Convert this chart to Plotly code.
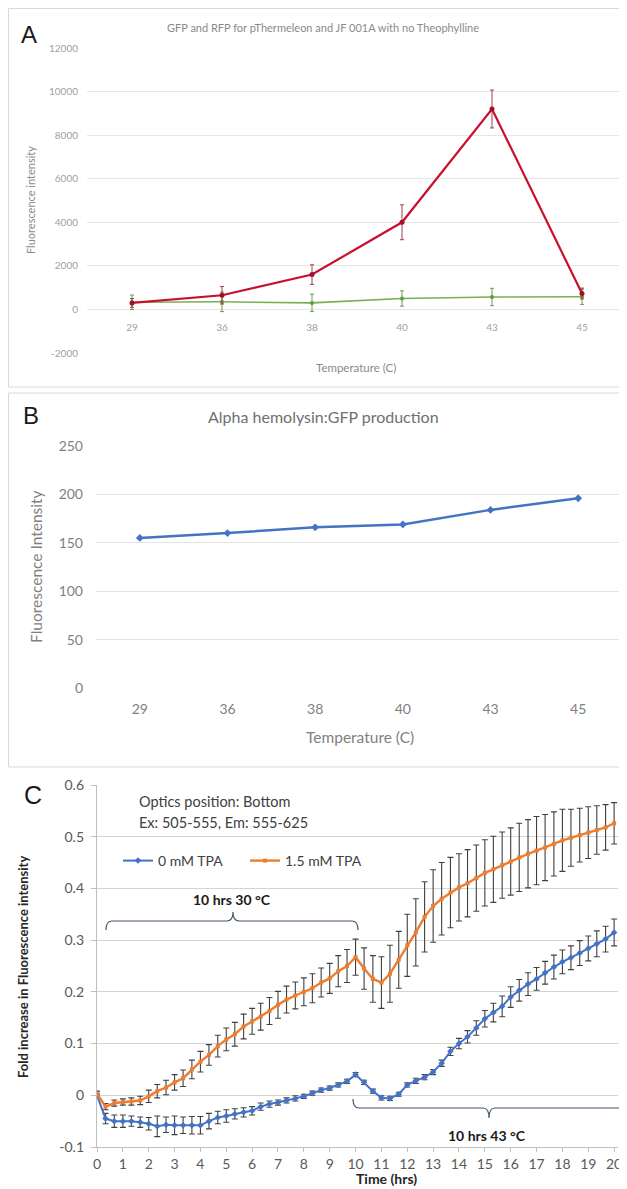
import plotly.graph_objects as go

# The page body keeps its default 8px margin, so the figure is drawn at (8, 8)
OFF = 8
PAGE_W, PAGE_H = 627, 1189
W, H = PAGE_W - OFF, PAGE_H - OFF

# ---------------- Panel A data ----------------
temps_a = ["29", "36", "38", "40", "43", "45"]
rfp_vals = [300, 650, 1600, 4000, 9200, 730]
rfp_err = [200, 400, 450, 800, 870, 250]
gfp_vals = [330, 350, 300, 500, 570, 580]
gfp_err = [330, 450, 400, 350, 400, 350]
a_ytick_vals = [-2000, 0, 2000, 4000, 6000, 8000, 10000, 12000]
a_ytick_text = ["-2000", "0", "2000", "4000", "6000", "8000", "10000", "12000"]

# ---------------- Panel B data ----------------
temps_b = ["29", "36", "38", "40", "43", "45"]
hly_vals = [155, 160, 166, 169, 184, 196]

# ---------------- Panel C data ----------------
time_h = [0, 0.33, 0.67, 1, 1.33, 1.67, 2, 2.33, 2.67, 3, 3.33, 3.67, 4, 4.33, 4.67,
          5, 5.33, 5.67, 6, 6.33, 6.67, 7, 7.33, 7.67, 8, 8.33, 8.67, 9, 9.33, 9.67,
          10, 10.33, 10.67, 11, 11.33, 11.67, 12, 12.33, 12.67, 13, 13.33, 13.67, 14,
          14.33, 14.67, 15, 15.33, 15.67, 16, 16.33, 16.67, 17, 17.33, 17.67, 18, 18.33,
          18.67, 19, 19.33, 19.67, 20]
tpa0_vals = [0.0, -0.045, -0.05, -0.05, -0.05, -0.052, -0.055, -0.06, -0.057, -0.058,
             -0.058, -0.058, -0.058, -0.05, -0.043, -0.04, -0.036, -0.033, -0.03, -0.022,
             -0.017, -0.014, -0.01, -0.006, -0.002, 0.004, 0.01, 0.014, 0.02, 0.027,
             0.04, 0.025, 0.008, -0.005, -0.006, 0.002, 0.02, 0.028, 0.035, 0.045,
             0.062, 0.085, 0.1, 0.113, 0.13, 0.148, 0.16, 0.172, 0.19, 0.203,
             0.215, 0.225, 0.237, 0.248, 0.258, 0.266, 0.275, 0.284, 0.293, 0.302, 0.315]
tpa0_err = [0.003, 0.01, 0.012, 0.012, 0.01, 0.01, 0.012, 0.02, 0.015, 0.018,
            0.016, 0.017, 0.017, 0.015, 0.012, 0.012, 0.01, 0.009, 0.008, 0.007,
            0.006, 0.005, 0.005, 0.005, 0.004, 0.004, 0.004, 0.004, 0.004, 0.004,
            0.004, 0.004, 0.004, 0.004, 0.004, 0.004, 0.004, 0.005, 0.005, 0.005,
            0.006, 0.008, 0.01, 0.012, 0.014, 0.016, 0.018, 0.02, 0.02, 0.021,
            0.022, 0.022, 0.022, 0.023, 0.023, 0.023, 0.024, 0.024, 0.025, 0.025, 0.026]
tpa15_vals = [0.003, -0.022, -0.015, -0.013, -0.012, -0.01, -0.002, 0.008, 0.015, 0.025,
              0.033, 0.05, 0.065, 0.078, 0.095, 0.108, 0.118, 0.133, 0.143, 0.152,
              0.163, 0.175, 0.185, 0.193, 0.2, 0.207, 0.218, 0.226, 0.24, 0.25,
              0.267, 0.245, 0.225, 0.218, 0.235, 0.262, 0.29, 0.315, 0.345, 0.366,
              0.38, 0.392, 0.402, 0.41, 0.42, 0.43, 0.437, 0.445, 0.452, 0.46,
              0.467, 0.473, 0.479, 0.486, 0.493, 0.498, 0.503, 0.508, 0.513, 0.518, 0.526]
tpa15_err = [0.005, 0.006, 0.006, 0.006, 0.007, 0.008, 0.012, 0.013, 0.014, 0.015,
             0.016, 0.018, 0.02, 0.02, 0.021, 0.022, 0.023, 0.024, 0.025, 0.026,
             0.026, 0.026, 0.026, 0.026, 0.027, 0.028, 0.028, 0.029, 0.03, 0.032,
             0.035, 0.04, 0.045, 0.05, 0.055, 0.055, 0.06, 0.065, 0.068, 0.07,
             0.07, 0.068, 0.065, 0.065, 0.064, 0.064, 0.064, 0.064, 0.065, 0.066,
             0.066, 0.066, 0.064, 0.062, 0.06, 0.055, 0.052, 0.05, 0.047, 0.044, 0.04]
time_ticks = list(range(0, 21))
c_ytick_vals = [-0.1, 0, 0.1, 0.2, 0.3, 0.4, 0.5, 0.6]
c_ytick_text = ["-0.1", "0", "0.1", "0.2", "0.3", "0.4", "0.5", "0.6"]


def X(px):
    """page pixel -> paper fraction"""
    return (px - OFF) / W


def Y(py):
    return 1 - (py - OFF) / H


FONT = "Lato, 'Open Sans', sans-serif"

fig = go.Figure()

# Panel A traces
fig.add_trace(go.Scatter(
    x=temps_a, y=gfp_vals, mode="lines+markers", xaxis="x", yaxis="y",
    line=dict(color="#78b050", width=1.6), marker=dict(size=4, color="#5f9a3c"),
    error_y=dict(type="data", array=gfp_err, color="#6c9a50", thickness=1, width=2),
    showlegend=False))
fig.add_trace(go.Scatter(
    x=temps_a, y=rfp_vals, mode="lines+markers", xaxis="x", yaxis="y",
    line=dict(color="#c8102e", width=2.2), marker=dict(size=5, color="#a0102a"),
    error_y=dict(type="data", array=rfp_err, color="#a04050", thickness=1, width=2),
    showlegend=False))

# Panel B trace
fig.add_trace(go.Scatter(
    x=temps_b, y=hly_vals, mode="lines+markers", xaxis="x2", yaxis="y2",
    line=dict(color="#4472c4", width=2.5),
    marker=dict(size=6, color="#4472c4", symbol="diamond"),
    showlegend=False))

# Panel C traces
fig.add_trace(go.Scatter(
    x=time_h, y=tpa0_vals, mode="lines+markers", xaxis="x3", yaxis="y3",
    name="0 mM TPA",
    line=dict(color="#4472c4", width=2),
    marker=dict(size=5, color="#4472c4", symbol="diamond"),
    error_y=dict(type="data", array=tpa0_err, color="#404040", thickness=1.1, width=3)))
fig.add_trace(go.Scatter(
    x=time_h, y=tpa15_vals, mode="lines+markers", xaxis="x3", yaxis="y3",
    name="1.5 mM TPA",
    line=dict(color="#ed7d31", width=2.4),
    marker=dict(size=4, color="#ed7d31", symbol="square"),
    error_y=dict(type="data", array=tpa15_err, color="#404040", thickness=1.1, width=3)))

grid_a = "#e6e6e6"
fig.update_layout(
    width=W, height=H, margin=dict(l=0, r=0, t=0, b=0),
    paper_bgcolor="white", plot_bgcolor="white",
    font=dict(family=FONT, color="#595959"),
    # Panel A axes
    xaxis=dict(domain=[X(87), 1.0], type="category", anchor="free", position=Y(320),
               automargin=False,
               showgrid=False, showline=False, zeroline=False, ticks="",
               tickfont=dict(size=10, color="#a0a0a0"), range=[-0.5, 5.5]),
    yaxis=dict(domain=[Y(353), Y(48)], anchor="x", range=[-2000, 12000],
               tickvals=a_ytick_vals, ticktext=a_ytick_text, automargin=False,
               showgrid=True, gridcolor=grid_a, zeroline=False, showline=False, ticks="",
               tickfont=dict(size=10, color="#a0a0a0"), ticklabelstandoff=8),
    # Panel B axes
    xaxis2=dict(domain=[X(96), X(622)], type="category", anchor="y2", automargin=False,
                showgrid=False, showline=False, zeroline=False, ticks="",
                tickfont=dict(size=14, color="#7f7f7f"), range=[-0.5, 5.5],
                ticklabelstandoff=11),
    yaxis2=dict(domain=[Y(688), Y(446)], anchor="x2", range=[0, 250], dtick=50,
                automargin=False,
                showgrid=True, gridcolor="#e3e3e3", zeroline=False, showline=False,
                ticks="", tickfont=dict(size=14, color="#7f7f7f"), ticklabelstandoff=12),
    # Panel C axes
    xaxis3=dict(domain=[X(97), X(618)], anchor="y3", range=[0, 20.15], automargin=False,
                tickvals=time_ticks, showgrid=False, zeroline=False,
                showline=True, linecolor="#bfbfbf", linewidth=1.3,
                ticks="outside", ticklen=4, tickcolor="#bfbfbf",
                tickfont=dict(size=14, color="#595959")),
    yaxis3=dict(domain=[Y(1147), Y(785)], anchor="x3", range=[-0.1, 0.6],
                tickvals=c_ytick_vals, ticktext=c_ytick_text, automargin=False,
                showgrid=True, gridcolor="#d4d4d4", gridwidth=1.3,
                zeroline=False, showline=True, linecolor="#bfbfbf", linewidth=1.3,
                ticks="outside", ticklen=5, tickcolor="#bfbfbf",
                tickfont=dict(size=14, color="#595959"), ticklabelstandoff=4),
    legend=dict(orientation="h", x=X(118), y=Y(861), xanchor="left", yanchor="middle",
                font=dict(size=14, color="#404040"), bgcolor="rgba(0,0,0,0)",
                entrywidth=82, tracegroupgap=0),
)

ann = []


def text(px, py, s, size, color="#595959", bold=False, angle=0, xanchor="center",
         family=FONT):
    ann.append(dict(x=X(px), y=Y(py), xref="paper", yref="paper", text=s,
                    showarrow=False, xanchor=xanchor, yanchor="middle", textangle=angle,
                    font=dict(size=size, color=color, family=family,
                              weight="bold" if bold else "normal")))


# Panel A texts
text(29, 34, "A", 24, color="#1a1a1a", family="Liberation Sans, Arial")
text(323, 27, "GFP and RFP for pThermeleon and JF 001A with no Theophylline", 11,
     color="#8a8a8a")
text(30, 200, "Fluorescence intensity", 11, color="#8a8a8a", angle=-90)
text(356, 367, "Temperature (C)", 11.5, color="#8a8a8a")

# Panel B texts
text(31, 415, "B", 24, color="#1a1a1a", family="Liberation Sans, Arial")
text(323, 416, "Alpha hemolysin:GFP production", 16, color="#6f6f6f")
text(36, 567, "Fluorescence Intensity", 15.5, color="#7f7f7f", angle=-90)
text(360, 737, "Temperature (C)", 15.5, color="#7f7f7f")

# Panel C texts
text(33, 795, "C", 25, color="#1a1a1a", family="Liberation Sans, Arial")
text(23, 967, "Fold increase in Fluorescence intensity", 13, color="#262626",
     bold=True, angle=-90)
text(386, 1178, "Time (hrs)", 14, color="#262626", bold=True)
text(137, 802, "Optics position: Bottom", 14.5, color="#404040", xanchor="left")
text(137, 822, "Ex: 505-555, Em: 555-625", 14.5, color="#404040", xanchor="left")
text(232, 899, "10 hrs 30 °C", 14, color="#1a1a1a", bold=True)
text(487, 1135, "10 hrs 43 °C", 14, color="#1a1a1a", bold=True)

fig.update_layout(annotations=ann)


def path(points_cmds):
    out = []
    for cmd, pts in points_cmds:
        coords = " ".join(f"{X(a):.5f},{Y(b):.5f}" for a, b in pts)
        out.append(f"{cmd} {coords}")
    return " ".join(out)


upper = path([("M", [(106, 930)]), ("Q", [(106, 921), (112, 921)]),
              ("L", [(227, 921)]), ("Q", [(233, 921), (233, 912)]),
              ("Q", [(233, 921), (239, 921)]), ("L", [(352, 921)]),
              ("Q", [(358, 921), (358, 930)])])
lower = path([("M", [(353, 1099)]), ("Q", [(353, 1108), (359, 1108)]),
              ("L", [(483, 1108)]), ("Q", [(489, 1108), (489, 1118)]),
              ("Q", [(489, 1108), (495, 1108)]), ("L", [(620, 1108)]),
              ("Q", [(626, 1108), (626, 1099)])])

shapes = [
    dict(type="rect", xref="paper", yref="paper", x0=X(8.5), x1=X(660), y0=Y(387),
         y1=Y(8.5), line=dict(color="#d9d9d9", width=1), layer="below"),
    dict(type="rect", xref="paper", yref="paper", x0=X(8.5), x1=X(660), y0=Y(767),
         y1=Y(393), line=dict(color="#d9d9d9", width=1), layer="below"),
    dict(type="path", xref="paper", yref="paper", path=upper,
         line=dict(color="#44546a", width=1.2)),
    dict(type="path", xref="paper", yref="paper", path=lower,
         line=dict(color="#44546a", width=1.2)),
]
fig.update_layout(shapes=shapes)

fig.write_html("out.html")
